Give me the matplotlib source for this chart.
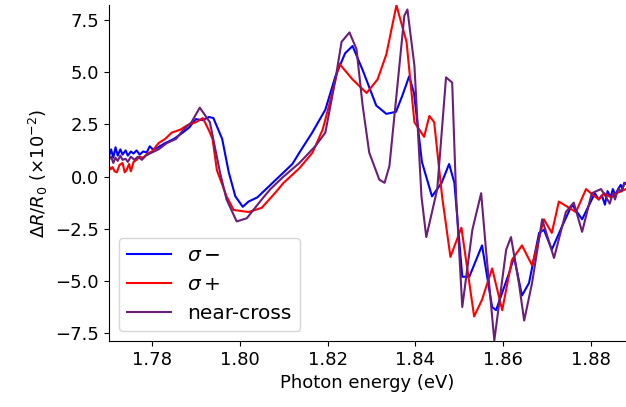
import numpy as np
import matplotlib.pyplot as plt

# photon energy (eV) and dR/R0 (x1e-2) for each polarisation
e_minus = [1.7702, 1.7707, 1.7712, 1.7717, 1.7722, 1.7728, 1.7733, 1.7740, 1.7745, 1.7752,
           1.7758, 1.7765, 1.7772, 1.7780, 1.7788, 1.7795, 1.7802, 1.7810, 1.7830, 1.7850,
           1.7870, 1.7885, 1.7900, 1.7915, 1.7930, 1.7940, 1.7960,
           1.7975, 1.7990, 1.8007, 1.8020, 1.8040, 1.8060, 1.8080, 1.8100, 1.8120, 1.8136,
           1.8165, 1.8195, 1.8218, 1.8240, 1.8257, 1.8280, 1.8311, 1.8334, 1.8356, 1.8370,
           1.8386, 1.8397, 1.8415, 1.8438, 1.8460, 1.8477, 1.8489, 1.8507, 1.8523, 1.8552,
           1.8575, 1.8584, 1.8614, 1.8625, 1.8643, 1.8659, 1.8682, 1.8693, 1.8711, 1.8734,
           1.8757, 1.8780, 1.8809, 1.8818, 1.8825, 1.8832, 1.8838, 1.8845, 1.8850, 1.8856,
           1.8862, 1.8868, 1.8872, 1.8876, 1.8880]
v_minus = [0.95, 1.3, 0.9, 1.4, 1.0, 1.3, 1.05, 1.25, 1.0, 1.2,
           1.1, 1.25, 1.05, 1.2, 1.15, 1.45, 1.3, 1.35, 1.6, 1.8,
           2.1, 2.35, 2.75, 2.7, 2.85, 2.8, 1.8,
           0.2, -0.95, -1.45, -1.2, -1.0, -0.6, -0.2, 0.2, 0.6, 1.15,
           2.1, 3.2, 4.8, 5.9, 6.25, 5.1, 3.4, 3.0, 3.1, 3.85,
           4.8, 4.0, 0.7, -0.95, -0.3, 0.6, -0.3, -4.8, -4.8, -3.3,
           -6.25, -6.4, -4.6, -3.85, -5.7, -5.1, -2.7, -2.55, -3.5, -2.4,
           -1.35, -2.05, -0.8, -1.1, -0.9, -1.35, -0.7, -1.0, -0.6, -0.9,
           -0.6, -0.4, -0.6, -0.3, -0.35]

e_plus = [1.7702, 1.7706, 1.7710, 1.7715, 1.7720, 1.7726, 1.7733, 1.7738, 1.7742, 1.7748,
          1.7752, 1.7758, 1.7765, 1.7772, 1.7780, 1.7790, 1.7800, 1.7815,
          1.7830, 1.7845, 1.7865, 1.7880, 1.7900, 1.7916, 1.7930, 1.7938, 1.7948, 1.7970,
          1.7986, 1.8020, 1.8050, 1.8080, 1.8100, 1.8136, 1.8166, 1.8189, 1.8209, 1.8227,
          1.8257, 1.8289, 1.8314, 1.8334, 1.8357, 1.8380, 1.8398, 1.8420, 1.8432, 1.8443,
          1.8461, 1.8480, 1.8505, 1.8534, 1.8552, 1.8575, 1.8598, 1.8620, 1.8643, 1.8666,
          1.8693, 1.8711, 1.8727, 1.8766, 1.8789, 1.8800, 1.8818, 1.8830, 1.8846, 1.8858,
          1.8870, 1.8880]
v_plus = [0.5, 0.35, 0.45, 0.25, 0.2, 0.55, 0.65, 0.2, 0.3, 0.6,
          0.25, 0.7, 0.8, 0.95, 0.9, 1.1, 1.2, 1.6,
          1.8, 2.1, 2.25, 2.45, 2.6, 2.8, 2.2, 1.8, 0.3, -0.95,
          -1.6, -1.7, -1.5, -0.8, -0.3, 0.4, 1.15, 2.25, 3.85, 5.4,
          4.65, 4.0, 4.65, 5.85, 8.2, 6.45, 2.6, 1.9, 2.9, 2.6,
          -0.95, -3.85, -2.45, -6.7, -5.9, -4.4, -6.4, -4.0, -3.3, -4.25,
          -2.05, -2.7, -1.2, -1.7, -0.6, -0.8, -1.1, -0.8, -1.0, -0.8,
          -0.7, -0.6]

e_cross = [1.7702, 1.7707, 1.7712, 1.7717, 1.7722, 1.7728, 1.7733, 1.7740, 1.7745, 1.7752,
           1.7760, 1.7768, 1.7777, 1.7786, 1.7795, 1.7815, 1.7834,
           1.7855, 1.7870, 1.7890, 1.7909, 1.7932, 1.7955, 1.7970, 1.7993, 1.8016, 1.8050,
           1.8070, 1.8100, 1.8136, 1.8172, 1.8195, 1.8218, 1.8232, 1.8250, 1.8266, 1.8280,
           1.8295, 1.8318, 1.8330, 1.8341, 1.8359, 1.8375, 1.8382, 1.8398, 1.8414, 1.8425,
           1.8450, 1.8470, 1.8484, 1.8493, 1.8507, 1.8530, 1.8550, 1.8561, 1.8580, 1.8607,
           1.8618, 1.8636, 1.8648, 1.8666, 1.8689, 1.8716, 1.8743, 1.8761, 1.8780, 1.8802,
           1.8823, 1.8835, 1.8843, 1.8850, 1.8855, 1.8862, 1.8870, 1.8875, 1.8880]
v_cross = [0.8, 0.95, 0.65, 0.9, 0.75, 1.0, 0.8, 0.85, 0.7, 0.95,
           0.8, 0.95, 0.8, 1.0, 1.1, 1.3, 1.6,
           1.8, 2.2, 2.6, 3.3, 2.6, 0.2, -1.1, -2.15, -2.0, -1.1,
           -0.6, 0.0, 0.65, 1.45, 2.1, 4.65, 6.45, 6.9, 6.1, 3.4,
           1.15, -0.15, -0.3, 0.5, 4.3, 7.7, 8.0, 5.3, -0.95, -2.9,
           -0.6, 4.75, 4.5, -0.95, -6.25, -2.55, -0.8, -3.5, -7.85, -3.5,
           -2.9, -5.1, -6.9, -5.1, -2.05, -3.9, -1.7, -1.25, -2.65, -0.8,
           -0.6, -1.0, -1.3, -0.8, -1.1, -0.6, -0.7, -0.4, -0.3]

fig, ax = plt.subplots(figsize=(6.26, 4.07), dpi=100)
fig.subplots_adjust(left=0.174, right=1.0, bottom=0.162, top=0.988)

ax.plot(e_minus, v_minus, color='blue', lw=1.5, label=r'$\sigma-$')
ax.plot(e_plus, v_plus, color='red', lw=1.5, label=r'$\sigma+$')
ax.plot(e_cross, v_cross, color='#6a1e78', lw=1.5, label='near-cross')

ax.set_xlim(1.7702, 1.888)
ax.set_ylim(-7.88, 8.22)
ax.set_yticks([-7.5, -5.0, -2.5, 0.0, 2.5, 5.0, 7.5])
ax.spines['top'].set_visible(False)
ax.spines['right'].set_visible(False)
ax.tick_params(labelsize=13)
ax.set_xlabel('Photon energy (eV)', fontsize=13)
ax.set_ylabel(r'$\Delta R/R_0$ ($\times 10^{-2}$)', fontsize=13)
ax.legend(loc='lower left', fontsize=14.5, handlelength=2.2)

plt.savefig('out.png')
